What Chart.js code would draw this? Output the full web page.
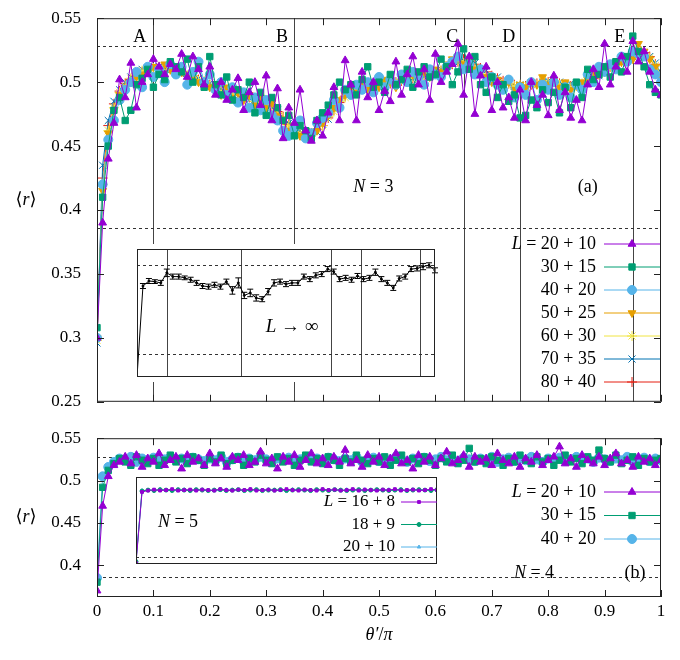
<!DOCTYPE html>
<html>
<head>
<meta charset="utf-8">
<script src="https://cdn.jsdelivr.net/npm/chart.js@4"></script>
<style>
  body { margin: 0; background: #fff; }
  #wrap { position: relative; width: 680px; height: 660px; }
  canvas { position: absolute; }
  #topMain { left: 0; top: 0; }
  #botMain { left: 0; top: 420px; }
  #topInset { left: 132px; top: 244px; background: #fff; }
  #botInset { left: 133px; top: 474px; background: #fff; }
</style>
</head>
<body>
<div id="wrap">
  <canvas id="topMain" width="680" height="420" style="width:680px;height:420px"></canvas>
  <canvas id="botMain" width="680" height="240" style="width:680px;height:240px"></canvas>
  <canvas id="topInset" width="308" height="138" style="width:308px;height:138px"></canvas>
  <canvas id="botInset" width="307" height="93" style="width:307px;height:93px"></canvas>
</div>
<script>
/* ---------- data ---------- */
const xs = [];
for (let i = 0; i <= 100; i++) xs.push(i / 100);      // theta'/pi grid
const xsCoarse = [];
for (let i = 0; i <= 50; i++) xsCoarse.push(i / 50);

const regionX = [0.1, 0.35, 0.65, 0.75, 0.95];
const regionLetters = ["A", "B", "C", "D", "E"];
const letterX = [0.076, 0.328, 0.63, 0.73, 0.927];
const goeLevel = 0.528;
const poissonLevel = 0.386;

const topLabels = ["20 + 10", "30 + 15", "40 + 20", "50 + 25", "60 + 30", "70 + 35", "80 + 40"];

const r20 = [
  .300,.390,.440,.468,.502,.488,.515,.480,.500,.506,
  .518,.512,.506,.514,.510,.522,.504,.520,.510,.498,
  .512,.490,.500,.486,.494,.503,.478,.492,.500,.482,
  .505,.470,.495,.456,.480,.468,.494,.462,.454,.470,
  .458,.476,.496,.470,.517,.498,.470,.508,.488,.500,
  .478,.493,.485,.516,.490,.506,.520,.498,.510,.486,
  .522,.500,.508,.514,.530,.490,.520,.475,.505,.512,
  .478,.500,.480,.488,.472,.494,.470,.500,.482,.490,
  .474,.505,.478,.492,.472,.486,.470,.498,.510,.496,
  .530,.498,.512,.520,.508,.532,.516,.524,.508,.494,
  .490];
const r30 = [
  .308,.410,.450,.478,.488,.470,.478,.498,.503,.510,
  .496,.506,.502,.516,.512,.508,.518,.500,.512,.496,
  .520,.498,.490,.504,.486,.494,.488,.500,.476,.492,
  .474,.488,.480,.470,.474,.458,.466,.462,.456,.470,
  .476,.482,.490,.500,.494,.498,.490,.502,.512,.496,
  .500,.492,.506,.498,.502,.510,.496,.508,.512,.504,
  .506,.518,.512,.498,.508,.526,.510,.520,.498,.492,
  .504,.488,.498,.485,.490,.472,.474,.486,.480,.494,
  .484,.492,.476,.496,.480,.500,.488,.510,.502,.506,
  .512,.504,.516,.508,.520,.536,.524,.512,.498,.492,
  .490];
const r40 = [
  .300,.420,.455,.470,.486,.494,.500,.508,.496,.512,
  .504,.510,.500,.514,.506,.512,.498,.508,.516,.500,
  .506,.494,.500,.490,.496,.484,.492,.480,.488,.478,
  .486,.474,.470,.462,.458,.464,.470,.456,.460,.468,
  .472,.476,.486,.480,.494,.490,.498,.494,.500,.492,
  .504,.496,.502,.498,.506,.500,.508,.504,.498,.510,
  .506,.504,.512,.516,.520,.510,.514,.506,.510,.500,
  .504,.498,.494,.502,.488,.496,.490,.500,.486,.498,
  .494,.500,.490,.496,.488,.498,.494,.506,.500,.512,
  .508,.514,.510,.520,.516,.524,.522,.520,.510,.506,
  .500];
const r50 = [
  .300,.415,.460,.478,.490,.495,.500,.504,.506,.508,
  .512,.508,.514,.510,.506,.508,.504,.506,.500,.498,
  .496,.494,.490,.496,.488,.492,.486,.490,.482,.488,
  .480,.484,.474,.470,.462,.466,.458,.462,.456,.462,
  .468,.474,.480,.486,.490,.496,.492,.498,.494,.500,
  .496,.502,.500,.496,.504,.500,.506,.502,.508,.504,
  .510,.508,.514,.518,.520,.514,.518,.510,.508,.504,
  .500,.502,.496,.500,.494,.498,.496,.500,.498,.504,
  .498,.502,.496,.500,.494,.498,.500,.502,.506,.510,
  .508,.514,.512,.516,.520,.518,.530,.524,.518,.512,
  .504];
const r60 = [
  .298,.420,.462,.480,.492,.497,.503,.505,.509,.509,
  .511,.510,.508,.510,.507,.508,.505,.505,.501,.501,
  .497,.496,.493,.493,.490,.491,.487,.489,.485,.487,
  .483,.482,.476,.472,.466,.464,.460,.461,.459,.463,
  .466,.473,.477,.485,.488,.494,.494,.497,.495,.498,
  .497,.499,.500,.499,.502,.501,.504,.503,.506,.505,
  .508,.509,.512,.515,.517,.515,.515,.511,.509,.505,
  .503,.501,.499,.499,.497,.498,.496,.499,.498,.501,
  .499,.501,.498,.498,.496,.497,.499,.501,.504,.506,
  .509,.512,.513,.517,.518,.522,.525,.522,.519,.513,
  .506];
const r70 = [
  .296,.435,.470,.485,.494,.500,.504,.507,.510,.511,
  .511,.512,.510,.509,.509,.506,.507,.503,.503,.499,
  .499,.495,.495,.491,.492,.489,.490,.486,.488,.484,
  .485,.480,.478,.471,.468,.462,.462,.459,.461,.461,
  .467,.471,.479,.483,.490,.492,.496,.495,.497,.496,
  .499,.497,.500,.501,.500,.503,.502,.505,.504,.507,
  .506,.510,.510,.514,.515,.518,.515,.515,.510,.509,
  .504,.504,.500,.500,.497,.498,.496,.498,.499,.500,
  .501,.499,.500,.497,.499,.496,.499,.499,.504,.505,
  .510,.511,.515,.515,.519,.520,.525,.523,.520,.515,
  .507];
const r80 = [
  .300,.425,.466,.483,.493,.499,.502,.507,.508,.511,
  .510,.512,.510,.510,.508,.508,.505,.505,.502,.500,
  .498,.497,.494,.493,.491,.491,.489,.488,.487,.486,
  .484,.481,.477,.473,.467,.464,.461,.460,.460,.463,
  .466,.472,.478,.484,.489,.493,.495,.497,.496,.497,
  .498,.499,.499,.500,.501,.502,.503,.504,.505,.506,
  .507,.509,.511,.514,.516,.518,.516,.514,.511,.508,
  .505,.503,.501,.499,.498,.497,.497,.498,.499,.500,
  .500,.500,.499,.498,.497,.497,.498,.500,.503,.506,
  .509,.512,.514,.516,.518,.521,.524,.523,.520,.514,
  .506];

// extrapolated L -> infinity (inset a), step 0.02
const rInf = [
  .350,.495,.503,.502,.500,.516,.510,.510,.508,.505,
  .500,.495,.494,.497,.494,.502,.488,.500,.480,.484,
  .476,.474,.486,.500,.502,.498,.500,.500,.510,.506,
  .512,.514,.522,.518,.506,.508,.505,.511,.506,.508,
  .517,.506,.500,.492,.507,.510,.522,.523,.526,.528,
  .520];
const rInfErr = [
  0,.004,.004,.003,.004,.006,.004,.004,.003,.004,
  .004,.004,.004,.004,.004,.004,.006,.008,.005,.006,
  .005,.004,.005,.005,.004,.004,.004,.004,.004,.004,
  .004,.004,.004,.004,.004,.004,.004,.004,.004,.004,
  .005,.004,.004,.004,.004,.004,.004,.004,.005,.004,
  .004];

// N = 4 (panel b)
const botLabels = ["20 + 10", "30 + 15", "40 + 20"];
const b20 = [
  .370,.470,.505,.518,.522,.528,.520,.530,.516,.526,
  .522,.532,.518,.524,.528,.514,.530,.522,.526,.518,
  .532,.520,.526,.516,.528,.524,.530,.518,.522,.534,
  .520,.526,.514,.528,.522,.530,.516,.524,.532,.520,
  .526,.518,.528,.522,.536,.520,.524,.516,.530,.522,
  .528,.518,.526,.532,.520,.524,.514,.530,.522,.528,
  .518,.526,.534,.520,.524,.530,.516,.528,.522,.526,
  .518,.532,.524,.520,.528,.516,.526,.522,.530,.518,
  .524,.528,.540,.520,.526,.516,.530,.524,.520,.528,
  .518,.526,.532,.520,.524,.516,.528,.522,.526,.518,
  .524];
const b30 = [
  .380,.492,.512,.520,.526,.522,.518,.528,.524,.520,
  .526,.518,.524,.530,.522,.526,.520,.528,.524,.518,
  .526,.522,.530,.520,.524,.528,.518,.526,.522,.530,
  .524,.520,.528,.522,.526,.518,.524,.530,.522,.526,
  .520,.528,.524,.518,.526,.522,.530,.524,.520,.526,
  .522,.528,.518,.524,.530,.522,.526,.520,.528,.524,
  .518,.526,.522,.530,.520,.524,.538,.522,.526,.520,
  .528,.524,.518,.526,.522,.530,.524,.520,.528,.522,
  .526,.518,.524,.530,.522,.526,.520,.528,.524,.536,
  .526,.522,.530,.520,.524,.528,.518,.526,.522,.524,
  .526];
const b40 = [
  .385,.505,.516,.522,.526,.524,.528,.522,.526,.524,
  .527,.523,.525,.528,.524,.526,.522,.527,.525,.523,
  .526,.524,.528,.522,.525,.527,.523,.526,.524,.528,
  .525,.522,.526,.524,.527,.523,.525,.528,.524,.526,
  .522,.527,.525,.523,.526,.524,.528,.522,.525,.527,
  .523,.526,.524,.528,.525,.522,.526,.524,.527,.523,
  .525,.528,.524,.526,.522,.527,.525,.523,.526,.524,
  .528,.522,.525,.527,.523,.526,.524,.528,.525,.522,
  .526,.524,.527,.523,.525,.528,.524,.526,.522,.527,
  .525,.523,.526,.524,.528,.522,.525,.527,.523,.526,
  .524];

// N = 5 (inset b), step 0.02
const n5Labels = ["16 + 8", "18 + 9", "20 + 10"];
const n5a = [
  .372,.524,.527,.529,.527,.528,.530,.527,.528,.529,
  .527,.529,.528,.527,.530,.528,.527,.529,.528,.530,
  .527,.528,.529,.527,.528,.530,.528,.527,.529,.528,
  .527,.530,.528,.529,.527,.528,.530,.527,.529,.528,
  .527,.529,.528,.530,.527,.528,.529,.527,.528,.530,
  .528];
const n5b = [
  .375,.526,.528,.527,.529,.528,.527,.529,.528,.527,
  .529,.528,.527,.528,.529,.527,.528,.529,.527,.528,
  .529,.527,.528,.528,.529,.527,.528,.529,.528,.527,
  .529,.528,.527,.529,.528,.527,.528,.529,.527,.528,
  .529,.528,.527,.528,.529,.527,.528,.529,.528,.527,
  .529];
const n5c = [
  .378,.527,.528,.528,.529,.528,.528,.527,.529,.528,
  .528,.529,.528,.527,.528,.529,.528,.528,.527,.529,
  .528,.528,.529,.528,.527,.528,.529,.528,.528,.527,
  .528,.529,.528,.528,.527,.529,.528,.528,.529,.528,
  .527,.528,.529,.528,.528,.527,.529,.528,.528,.529,
  .528];

/* ---------- styling ---------- */
const FONT = "'Liberation Serif', 'DejaVu Serif', serif";
const seriesStyle = [
  { color: "#9400d3", style: "triangle", rot: 0, r: 4.5 },
  { color: "#009e73", style: "rect", rot: 0, r: 4.5 },
  { color: "#56b4e9", style: "circle", rot: 0, r: 4.5 },
  { color: "#e69f00", style: "triangle", rot: 180, r: 4.5 },
  { color: "#f0e442", style: "star", rot: 0, r: 5 },
  { color: "#0072b2", style: "crossRot", rot: 0, r: 5 },
  { color: "#e51e10", style: "cross", rot: 0, r: 5 }
];

const pts = (x, y) => x.map((v, i) => ({ x: v, y: y[i] }));

function makeDataset(x, y, st, label, r) {
  return {
    label: label,
    data: pts(x, y),
    showLine: true,
    borderColor: st.color,
    backgroundColor: st.color,
    borderWidth: 1,
    pointStyle: st.style,
    rotation: st.rot,
    pointRadius: r || st.r,
    pointBorderWidth: 1,
    pointHoverRadius: r || st.r
  };
}

// text with italic pieces: parts = [[text, italic], ...]
function drawRich(ctx, parts, x, y, size, align) {
  ctx.textBaseline = "middle";
  ctx.textAlign = "left";
  let w = 0;
  parts.forEach(p => {
    ctx.font = (p[1] ? "italic " : "") + size + "px " + FONT;
    w += ctx.measureText(p[0]).width;
  });
  let cx = align === "right" ? x - w : align === "center" ? x - w / 2 : x;
  ctx.fillStyle = "#000";
  parts.forEach(p => {
    ctx.font = (p[1] ? "italic " : "") + size + "px " + FONT;
    ctx.fillText(p[0], cx, y);
    cx += ctx.measureText(p[0]).width;
  });
}

function decoPlugin(cfg) {
  return {
    id: "deco",
    beforeDatasetsDraw(chart) {
      const { ctx, chartArea: a, scales } = chart;
      ctx.save();
      ctx.strokeStyle = "#444";
      ctx.lineWidth = 1;
      (cfg.vlines || []).forEach(v => {
        const px = Math.round(scales.x.getPixelForValue(v)) + 0.5;
        ctx.beginPath(); ctx.moveTo(px, a.top); ctx.lineTo(px, a.bottom); ctx.stroke();
      });
      ctx.setLineDash([3, 3]);
      ctx.strokeStyle = "#333";
      (cfg.hlines || []).forEach(v => {
        const py = Math.round(scales.y.getPixelForValue(v)) + 0.5;
        ctx.beginPath(); ctx.moveTo(a.left, py); ctx.lineTo(a.right, py); ctx.stroke();
      });
      ctx.restore();
    },
    afterDatasetsDraw(chart) {
      const { ctx, chartArea: a, scales } = chart;
      ctx.save();
      // error bars
      if (cfg.errors) {
        const ds = chart.data.datasets[0].data;
        ctx.strokeStyle = "#000";
        ctx.lineWidth = 1;
        ds.forEach((p, i) => {
          const e = cfg.errors[i];
          if (!e) return;
          const px = scales.x.getPixelForValue(p.x);
          const y1 = scales.y.getPixelForValue(p.y - e);
          const y2 = scales.y.getPixelForValue(p.y + e);
          ctx.beginPath();
          ctx.moveTo(px, y1); ctx.lineTo(px, y2);
          ctx.moveTo(px - 3, y1); ctx.lineTo(px + 3, y1);
          ctx.moveTo(px - 3, y2); ctx.lineTo(px + 3, y2);
          ctx.stroke();
        });
      }
      // frame + inward ticks
      ctx.strokeStyle = "#222";
      ctx.lineWidth = 1;
      ctx.strokeRect(a.left + 0.5, a.top + 0.5, a.right - a.left - 1, a.bottom - a.top - 1);
      if (cfg.ticks) {
        scales.x.ticks.forEach(t => {
          const px = Math.round(scales.x.getPixelForValue(t.value)) + 0.5;
          ctx.beginPath();
          ctx.moveTo(px, a.bottom); ctx.lineTo(px, a.bottom - 7);
          ctx.moveTo(px, a.top); ctx.lineTo(px, a.top + 7);
          ctx.stroke();
        });
        scales.y.ticks.forEach(t => {
          const py = Math.round(scales.y.getPixelForValue(t.value)) + 0.5;
          ctx.beginPath();
          ctx.moveTo(a.left, py); ctx.lineTo(a.left + 7, py);
          ctx.moveTo(a.right, py); ctx.lineTo(a.right - 7, py);
          ctx.stroke();
        });
      }
      // free texts
      (cfg.texts || []).forEach(t => {
        const px = t.px !== undefined ? t.px : scales.x.getPixelForValue(t.x);
        drawRich(ctx, t.parts, px, t.y, t.size || 18, t.align || "center");
      });
      // legend
      if (cfg.legend) {
        const lg = cfg.legend;
        chart.data.datasets.forEach((d, i) => {
          const y = lg.y0 + i * lg.dy;
          const parts = i === 0 && lg.firstPrefix ? [["L", true], [" = " + lg.labels[i], false]] : [[lg.labels[i], false]];
          drawRich(ctx, parts, lg.textRight, y, lg.size || 18, "right");
          ctx.strokeStyle = d.borderColor;
          ctx.lineWidth = 1;
          ctx.beginPath(); ctx.moveTo(lg.x1, y); ctx.lineTo(lg.x2, y); ctx.stroke();
          ctx.fillStyle = d.backgroundColor;
          Chart.helpers.drawPoint(ctx, {
            pointStyle: d.pointStyle, rotation: d.rotation || 0,
            radius: d.pointRadius, borderWidth: 1
          }, (lg.x1 + lg.x2) / 2, y);
        });
      }
      ctx.restore();
    }
  };
}

function isStep(v, step) {
  return Math.abs(v / step - Math.round(v / step)) < 1e-6;
}

function baseOptions(o) {
  return {
    responsive: false,
    animation: false,
    layout: { padding: o.padding },
    plugins: { legend: { display: false }, tooltip: { enabled: false } },
    scales: {
      x: {
        type: "linear", min: 0, max: 1,
        display: o.xDisplay,
        grid: { display: false, tickLength: 0 }, border: { display: false },
        ticks: {
          stepSize: 0.1, display: o.xLabels, padding: 4,
          font: { family: FONT, size: 17 }, color: "#000",
          callback: v => +v.toFixed(1)
        },
        afterFit: s => { if (o.xDisplay) s.height = o.xHeight; }
      },
      y: {
        type: "linear", min: o.ymin, max: o.ymax,
        display: o.yDisplay,
        grid: { display: false }, border: { display: false },
        afterBuildTicks: s => { s.ticks = s.ticks.filter(t => isStep(t.value, 0.05)); },
        ticks: {
          stepSize: 0.05, padding: 8,
          font: { family: FONT, size: 17 }, color: "#000",
          callback: v => +v.toFixed(2)
        },
        afterFit: s => { if (o.yDisplay) s.width = 97; }
      }
    }
  };
}

/* ---------- top main panel (N = 3) ---------- */
const topSeries = [r20, r30, r40, r50, r60, r70, r80];
new Chart(document.getElementById("topMain"), {
  type: "scatter",
  data: { datasets: topSeries.map((s, i) => makeDataset(xs, s, seriesStyle[i], topLabels[i])) },
  options: baseOptions({ padding: { left: 0, right: 19, top: 18, bottom: 12 },
    xDisplay: true, xLabels: false, xHeight: 0, yDisplay: true, ymin: 0.25, ymax: 0.55 }),
  plugins: [decoPlugin({
    vlines: regionX, hlines: [goeLevel, poissonLevel], ticks: true,
    texts: regionLetters.map((l, i) => ({ x: letterX[i], y: 37, parts: [[l, false]] }))
      .concat([
        { x: 0.49, y: 187, parts: [["N", true], [" = 3", false]] },
        { x: 0.87, y: 187, parts: [["(a)", false]] },
        { px: 26, y: 200, parts: [["⟨", false], ["r", true], ["⟩", false]] }
      ]),
    legend: { labels: topLabels, firstPrefix: true, y0: 244, dy: 23, textRight: 596, x1: 604, x2: 660 }
  })]
});

/* ---------- bottom main panel (N = 4) ---------- */
const botSeries = [b20, b30, b40];
new Chart(document.getElementById("botMain"), {
  type: "scatter",
  data: { datasets: botSeries.map((s, i) => makeDataset(xs, s, seriesStyle[i], botLabels[i])) },
  options: baseOptions({ padding: { left: 0, right: 19, top: 17, bottom: 0 },
    xDisplay: true, xLabels: true, xHeight: 63, yDisplay: true, ymin: 0.3625, ymax: 0.55 }),
  plugins: [decoPlugin({
    hlines: [goeLevel, poissonLevel], ticks: true,
    texts: [
      { px: 534, y: 153, parts: [["N", true], [" = 4", false]] },
      { px: 635, y: 153, parts: [["(b)", false]] },
      { px: 26, y: 97, parts: [["⟨", false], ["r", true], ["⟩", false]] },
      { px: 379, y: 215, parts: [["θ′", true], ["/", false], ["π", true]] }
    ],
    legend: { labels: botLabels, firstPrefix: true, y0: 72, dy: 23.5, textRight: 596, x1: 604, x2: 660 }
  })]
});

/* ---------- inset a: L -> infinity ---------- */
new Chart(document.getElementById("topInset"), {
  type: "scatter",
  data: { datasets: [{
    data: pts(xsCoarse, rInf), showLine: true, borderColor: "#000", backgroundColor: "#000",
    borderWidth: 1, pointRadius: 1, pointStyle: "circle"
  }] },
  options: baseOptions({ padding: 0, xDisplay: false, xLabels: false, xHeight: 0,
    yDisplay: false, ymin: 0.35, ymax: 0.554 }),
  plugins: [decoPlugin({
    vlines: regionX, hlines: [goeLevel, poissonLevel], errors: rInfErr,
    texts: [{ x: 0.52, y: 83, size: 19, parts: [["L", true], [" → ∞", false]] }]
  })]
});

/* ---------- inset b: N = 5 ---------- */
const n5Series = [n5a, n5b, n5c];
const n5Style = [
  { color: "#9400d3", style: "rect", rot: 0, r: 2 },
  { color: "#009e73", style: "circle", rot: 0, r: 2 },
  { color: "#56b4e9", style: "triangle", rot: 0, r: 2 }
];
new Chart(document.getElementById("botInset"), {
  type: "scatter",
  data: { datasets: n5Series.map((s, i) => makeDataset(xsCoarse, s, n5Style[i], n5Labels[i])) },
  options: baseOptions({ padding: 0, xDisplay: false, xLabels: false, xHeight: 0,
    yDisplay: false, ymin: 0.37, ymax: 0.556 }),
  plugins: [decoPlugin({
    hlines: [poissonLevel],
    texts: [{ px: 45, y: 48, parts: [["N", true], [" = 5", false]] }],
    legend: { labels: n5Labels, firstPrefix: true, y0: 28, dy: 22.5, textRight: 262, x1: 268, x2: 304, size: 17 }
  })]
});
</script>
</body>
</html>
